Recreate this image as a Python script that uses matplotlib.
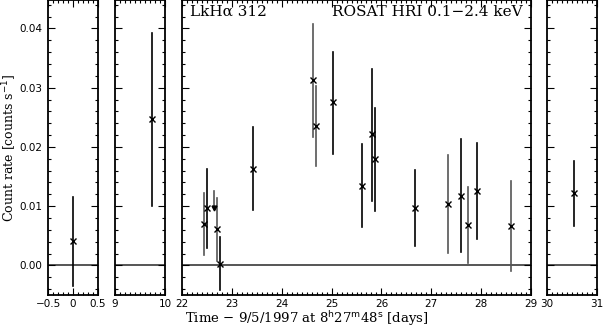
import matplotlib
matplotlib.use("Agg")
import matplotlib.pyplot as plt
from matplotlib.ticker import MultipleLocator, FixedLocator

# data: time [days], rate, lower/upper error ends
t1 = [0.0]
r1 = [0.0042]
lo1 = [-0.0034]
hi1 = [0.0116]

t2 = [9.75]
r2 = [0.0247]
lo2 = [0.0101]
hi2 = [0.0392]

t3 = [22.44, 22.51, 22.70, 22.76, 23.43, 24.62, 24.69, 25.02, 25.62, 25.82, 25.88,
      26.67, 27.33, 27.60, 27.73, 27.92, 28.59]
r3 = [0.0070, 0.0097, 0.0061, 0.0003, 0.0163, 0.0313, 0.0235, 0.0275, 0.0134, 0.0221, 0.0179,
      0.0097, 0.0103, 0.0117, 0.0069, 0.0126, 0.0067]
lo3 = [0.0017, 0.0030, 0.0007, -0.0042, 0.0094, 0.0217, 0.0167, 0.0188, 0.0064, 0.0108, 0.0091,
       0.0033, 0.0021, 0.0022, 0.0004, 0.0044, -0.0010]
hi3 = [0.0123, 0.0163, 0.0114, 0.0048, 0.0233, 0.0407, 0.0303, 0.0361, 0.0205, 0.0331, 0.0266,
       0.0161, 0.0186, 0.0213, 0.0132, 0.0206, 0.0143]
grey3 = [True, False, True, False, False, True, True, False, False, False, False,
         False, True, False, True, False, True]

# upper limit
tul = [22.64]
rul = [0.0097]
hul = [0.0125]

t4 = [30.54]
r4 = [0.0122]
lo4 = [0.0066]
hi4 = [0.0177]

xlims = [(-0.5, 0.5), (9, 10), (22, 29), (30, 31)]
xticks = [[-0.5, 0, 0.5], [9, 10], [22, 23, 24, 25, 26, 27, 28, 29], [30, 31]]
xticklabels = [["\u22120.5", "0", "0.5"], ["9", "10"],
               ["22", "23", "24", "25", "26", "27", "28", "29"], ["30", "31"]]
yticks = [0.00, 0.01, 0.02, 0.03, 0.04]
yticklabels = ["0.00", "0.01", "0.02", "0.03", "0.04"]

W, H = 603, 327
fig = plt.figure(figsize=(W / 100, H / 100), dpi=100)

panels_px = [(48, 98), (115, 165), (182, 531), (547, 597)]
top_px, bot_px = 0, 295

sans = "DejaVu Sans"
serif = "DejaVu Serif"

datasets = [(t1, r1, lo1, hi1, None), (t2, r2, lo2, hi2, None),
            (t3, r3, lo3, hi3, grey3), (t4, r4, lo4, hi4, None)]

axes = []
for i, ((x0, x1), xl) in enumerate(zip(panels_px, xlims)):
    ax = fig.add_axes([x0 / W, 1 - bot_px / H, (x1 - x0) / W, (bot_px - top_px) / H])
    ax.set_xlim(*xl)
    ax.set_ylim(-0.005, 0.0448)
    ax.axhline(0, color="#555555", lw=1.4, zorder=1)
    t, r, lo, hi, gr = datasets[i]
    for j in range(len(t)):
        c = "#555555" if (gr is not None and gr[j]) else "black"
        ax.plot([t[j], t[j]], [lo[j], hi[j]], color=c, lw=1.2, zorder=2)
    ax.plot(t, r, ls="none", marker="x", ms=4, mew=1.0, color="black", zorder=3)
    if i == 2:
        ax.plot([tul[0], tul[0]], [rul[0], hul[0]], color="#555555", lw=1.2)
        ax.plot(tul, rul, ls="none", marker="v", ms=3.5, color="black")
    ax.xaxis.set_major_locator(FixedLocator(xticks[i]))
    ax.set_xticklabels(xticklabels[i], fontfamily=sans, fontsize=7.5)
    ax.xaxis.set_minor_locator(MultipleLocator(0.1))
    ax.yaxis.set_major_locator(FixedLocator(yticks))
    ax.yaxis.set_minor_locator(MultipleLocator(0.002))
    ax.tick_params(which="both", direction="in", top=True, right=True, width=0.8)
    ax.tick_params(axis="x", pad=3)
    ax.tick_params(axis="y", pad=4)
    ax.tick_params(which="major", length=5)
    ax.tick_params(which="minor", length=2.5)
    if i == 0:
        ax.set_yticklabels(yticklabels, fontfamily=sans, fontsize=7.5)
    else:
        ax.set_yticklabels([])
    for s in ax.spines.values():
        s.set_linewidth(1.3)
    axes.append(ax)

fig.text(10 / W, 1 - 148 / H, "Count rate [counts s$^{-1}$]", rotation=90,
         ha="center", va="center", fontfamily=serif, fontsize=9)
fig.text(307 / W, 1 - 318.5 / H,
         "Time \u2212 9/5/1997 at 8$^{\\rm h}$27$^{\\rm m}$48$^{\\rm s}$ [days]",
         ha="center", va="center", fontfamily=serif, fontsize=9.5)
fig.text(190 / W, 1 - 12 / H, "LkH\u03b1 312", ha="left", va="center",
         fontfamily=serif, fontsize=11)
fig.text(523 / W, 1 - 12 / H, "ROSAT HRI 0.1\u22122.4 keV", ha="right", va="center",
         fontfamily=serif, fontsize=11)

fig.savefig("out.png", dpi=100)
